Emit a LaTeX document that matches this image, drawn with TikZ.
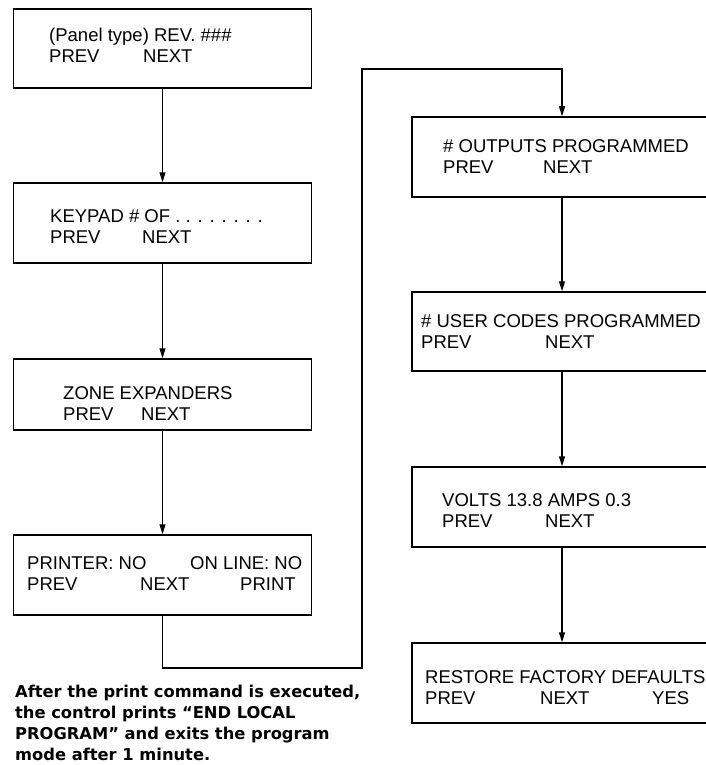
\documentclass[tikz,border=0pt]{standalone}
\usepackage{fontspec}
\setmainfont{Liberation Sans}
\newfontfamily\notefont[Ligatures=TeX]{DejaVu Sans}
\usetikzlibrary{arrows.meta,positioning,calc}

\begin{document}
\begin{tikzpicture}[
  x=1pt, y=1pt,
  scr/.style={draw, line width=1.5pt, inner sep=0pt},
  txt/.style={anchor=base west, align=left, inner sep=0pt,
    font=\fontsize{18.5}{21}\selectfont},
  note/.style={anchor=base west, align=left, inner sep=0pt,
    font=\notefont\fontsize{16.3}{21}\selectfont\bfseries},
  arr/.style={-{Triangle[length=10pt, width=6pt]}, line width=1.4pt},
]
\useasboundingbox (0,0) rectangle (706,-765);

% Left column of screens
\node[scr, minimum width=298pt, minimum height=79pt] (rev) at (162.5,-48.5) {};
\node[scr, minimum width=298pt, minimum height=80pt] (keypad) at (162.5,-223) {};
\node[scr, minimum width=298pt, minimum height=71pt] (zone) at (162.5,-394.5) {};
\node[scr, minimum width=298pt, minimum height=80pt] (printer) at (162.5,-575) {};

% Right column of screens
\node[scr, minimum width=300pt, minimum height=80pt] (outputs) at (562,-157) {};
\node[scr, minimum width=300pt, minimum height=79pt] (usercodes) at (562,-331.5) {};
\node[scr, minimum width=300pt, minimum height=80pt] (volts) at (562,-507) {};
\node[scr, minimum width=300pt, minimum height=80pt] (restore) at (562,-683) {};

% Screen texts (placed by the baseline of their last line)
\node[txt] (revtxt) at (49,-63)
  {(Panel type) REV. \#\#\#\\ \makebox[94pt][l]{PREV}NEXT};
\node[txt] (keypadtxt) at (50,-243)
  {KEYPAD \# OF . . . . . . . .\\ \makebox[92pt][l]{PREV}NEXT};
\node[txt] (zonetxt) at (63,-420)
  {ZONE EXPANDERS\\ \makebox[78pt][l]{PREV}NEXT};
\node[txt] (printertxt) at (27,-590)
  {\makebox[163pt][l]{PRINTER: NO}ON LINE: NO\\
   \makebox[113pt][l]{PREV}\makebox[100pt][l]{NEXT}PRINT};
\node[txt] (outputstxt) at (443,-173)
  {\# OUTPUTS PROGRAMMED\\ \makebox[100pt][l]{PREV}NEXT};
\node[txt] (usercodestxt) at (421,-348)
  {\# USER CODES PROGRAMMED\\ \makebox[124pt][l]{PREV}NEXT};
\node[txt] (voltstxt) at (442,-527)
  {VOLTS 13.8 AMPS 0.3\\ \makebox[103pt][l]{PREV}NEXT};
\node[txt] (restoretxt) at (425,-704)
  {RESTORE FACTORY DEFAULTS\\
   \makebox[115pt][l]{PREV}\makebox[112pt][l]{NEXT}YES};

% Note under the left column
\node[note] (endnote) at (15,-760)
  {After the print command is executed,\\
   the control prints “END LOCAL\\
   PROGRAM” and exits the program\\
   mode after 1 minute.};

% Arrows between screens
\draw[arr] (rev.south) -- (keypad.north);
\draw[arr] (keypad.south) -- (zone.north);
\draw[arr] (zone.south) -- (printer.north);

\coordinate (lowturn) at (362,-668);
\coordinate (highturn) at (362,-69);
\draw[arr] (printer.south) |- (lowturn) -- (highturn) -| (outputs.north);

\draw[arr] (outputs.south) -- (usercodes.north);
\draw[arr] (usercodes.south) -- (volts.north);
\draw[arr] (volts.south) -- (restore.north);
\end{tikzpicture}
\end{document}
